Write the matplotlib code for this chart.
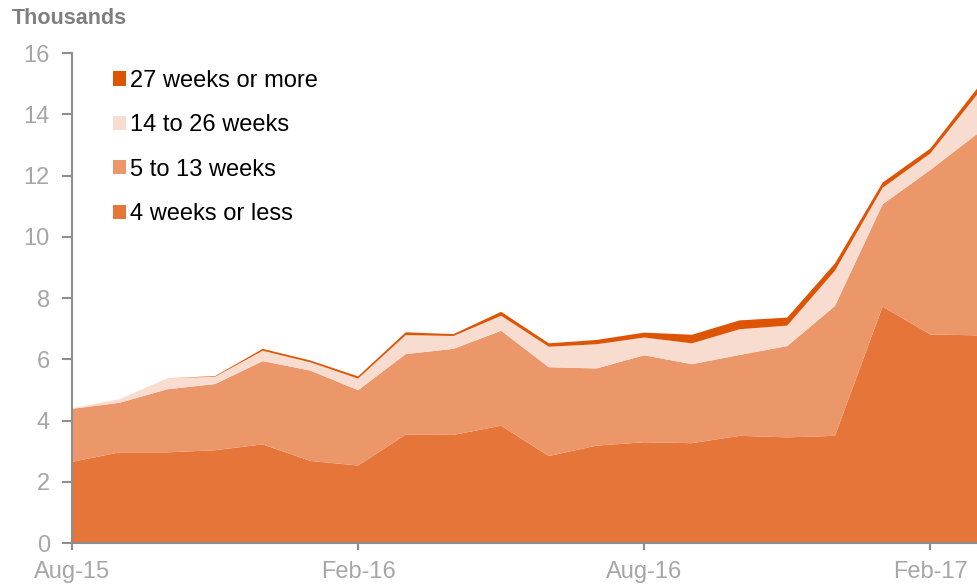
import matplotlib.pyplot as plt
from matplotlib.patches import Patch

months = ["Aug-15", "Sep-15", "Oct-15", "Nov-15", "Dec-15", "Jan-16", "Feb-16",
          "Mar-16", "Apr-16", "May-16", "Jun-16", "Jul-16", "Aug-16", "Sep-16",
          "Oct-16", "Nov-16", "Dec-16", "Jan-17", "Feb-17", "Mar-17"]

# thousands, by duration
wk_4_or_less = [2.65, 2.96, 2.96, 3.03, 3.22, 2.68, 2.53, 3.54, 3.53, 3.83,
                2.84, 3.18, 3.29, 3.26, 3.50, 3.45, 3.50, 7.72, 6.81, 6.78]
wk_5_to_13 = [1.73, 1.62, 2.06, 2.16, 2.72, 2.95, 2.46, 2.63, 2.81, 3.10,
              2.90, 2.52, 2.84, 2.58, 2.64, 2.98, 4.24, 3.34, 5.37, 6.60]
wk_14_to_26 = [0.02, 0.12, 0.36, 0.24, 0.34, 0.27, 0.38, 0.62, 0.42, 0.49,
               0.67, 0.79, 0.58, 0.68, 0.84, 0.67, 1.15, 0.54, 0.54, 1.30]
wk_27_plus = [0.00, 0.00, 0.00, 0.02, 0.06, 0.06, 0.07, 0.09, 0.06, 0.13,
              0.11, 0.14, 0.16, 0.28, 0.29, 0.26, 0.24, 0.17, 0.16, 0.20]

labels = ["4 weeks or less", "5 to 13 weeks", "14 to 26 weeks", "27 weeks or more"]
colors = ["#E57539", "#EB976A", "#F8DCCF", "#DD5405"]
tick_labels = ["Aug-15", "Feb-16", "Aug-16", "Feb-17"]

plt.rcParams["font.family"] = ["Liberation Sans", "DejaVu Sans"]

fig = plt.figure(figsize=(9.78, 5.84), dpi=100)
ax = fig.add_axes([0.0736, 0.0702, 0.9264, 0.8390])

x = list(range(len(months)))
ax.stackplot(x, wk_4_or_less, wk_5_to_13, wk_14_to_26, wk_27_plus,
             colors=colors, linewidth=0)

ax.set_xlim(0, len(months) - 1)
ax.set_ylim(0, 16)
ax.set_yticks(range(0, 17, 2))
ax.set_xticks([months.index(m) for m in tick_labels])
ax.set_xticklabels(tick_labels)

grey = "#8E8E8E"
for side in ["top", "right"]:
    ax.spines[side].set_visible(False)
for side in ["left", "bottom"]:
    ax.spines[side].set_color(grey)
    ax.spines[side].set_linewidth(1.5)
ax.tick_params(axis="both", colors=grey, labelcolor="#A6A6A6",
               labelsize=17, width=1.5)
ax.tick_params(axis="y", length=7, pad=9)
ax.tick_params(axis="x", length=5, pad=8)

fig.text(0.012, 0.968, "Thousands", fontsize=15.5, fontweight="bold",
         color="#7F7F7F", va="center", ha="left")

handles = [Patch(facecolor=c, edgecolor="none") for c in colors][::-1]
ax.legend(handles, labels[::-1], loc="upper left", bbox_to_anchor=(0.035, 0.985),
          frameon=False, fontsize=17, handlelength=0.55, handleheight=0.55,
          handletextpad=0.15, labelspacing=0.95, borderaxespad=0)

fig.savefig("out.png", dpi=100)
